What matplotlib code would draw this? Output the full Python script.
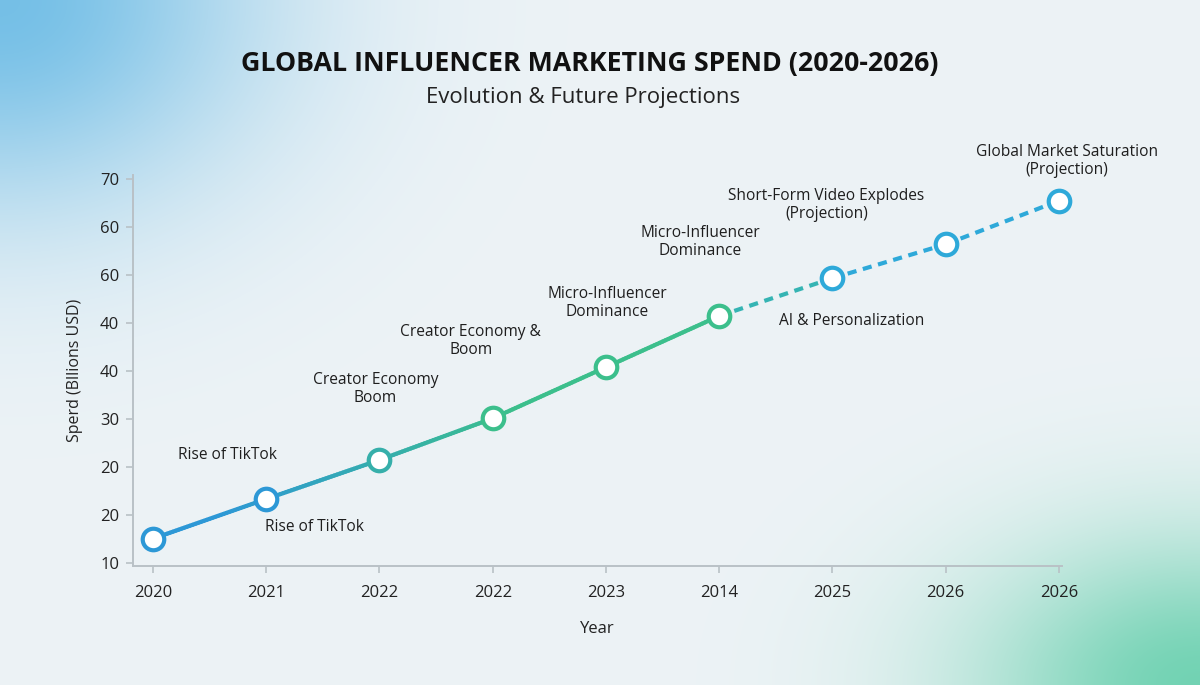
import numpy as np
import matplotlib
matplotlib.use('Agg')
import matplotlib.pyplot as plt
from matplotlib.collections import LineCollection
from matplotlib.colors import to_rgb

plt.rcParams['font.family'] = ['Open Sans', 'DejaVu Sans']

# data
year_labels = ['2020', '2021', '2022', '2022', '2023', '2014', '2025', '2026', '2026']
spend = [13.8, 20.0, 26.1, 32.6, 40.6, 48.6, 54.5, 59.8, 66.6]
n_actual = 6  # first six points solid, the rest projected (dashed)
ytick_values = [10, 17.5, 25, 32.5, 40, 47.5, 55, 62.5, 70]
ytick_labels = ['10', '20', '20', '30', '40', '40', '60', '60', '70']

notes = [
    'Rise of TikTok',
    'Rise of TikTok',
    'Creator Economy\nBoom',
    'Creator Economy &\nBoom',
    'Micro-Influencer\nDominance',
    'Micro-Influencer\nDominance',
    'AI & Personalization',
    'Short-Form Video Explodes\n(Projection)',
    'Global Market Saturation\n(Projection)',
]
# anchor point index and offset (pixels) of each note
note_pos = [(1, -39, 44), (1, 48, -28), (2, -4, 71), (3, -22, 77), (4, 1, 64),
            (5, -19, 74), (6, 19, -43), (6, -6, 73), (8, 8, 40)]

W, H = 1200, 685
fig = plt.figure(figsize=(W / 100, H / 100), dpi=100)

# soft background: blue glow top-left, green glow bottom-right
bg = fig.add_axes([0, 0, 1, 1])
yy, xx = np.mgrid[0:H, 0:W]
base = np.array(to_rgb('#edf3f6'))
blue = np.array(to_rgb('#6fbde6'))
green = np.array(to_rgb('#6cd1b0'))
w1 = 0.95 * np.exp(-((xx / 260.0) ** 2 + (yy / 210.0) ** 2))
w2 = 0.95 * np.exp(-(((W - xx) / 230.0) ** 2 + ((H - yy) / 150.0) ** 2))
img = base[None, None, :] * (1 - w1[..., None]) + blue[None, None, :] * w1[..., None]
img = img * (1 - w2[..., None]) + green[None, None, :] * w2[..., None]
bg.imshow(img, extent=[0, W, H, 0], aspect='auto')
bg.set_axis_off()

ax = fig.add_axes([133 / W, 1 - 566 / H, 929 / W, 391 / H])
ax.patch.set_alpha(0)
ax.set_xlim(-0.1766, 8.0265)
ax.set_ylim(9.53, 70.62)

x = np.arange(len(spend))
y = np.array(spend)

c_blue = np.array(to_rgb('#2d98d6'))
c_green = np.array(to_rgb('#3cbf8c'))
c_proj = np.array(to_rgb('#2ea9d9'))


def mix(a, b, t):
    return tuple(a * (1 - t) + b * t)


# solid part with blue -> green gradient
fine = 40
segs, cols = [], []
for i in range(n_actual - 1):
    for k in range(fine):
        t0, t1 = k / fine, (k + 1) / fine
        xa, xb = x[i] + t0, x[i] + t1
        ya = y[i] + (y[i + 1] - y[i]) * t0
        yb = y[i] + (y[i + 1] - y[i]) * t1
        segs.append([(xa, ya), (xb, yb)])
        g = np.clip((xa + (xb - xa) / 2 - 0.6) / 2.6, 0, 1)
        cols.append(mix(c_blue, c_green, g))
ax.add_collection(LineCollection(segs, colors=cols, linewidth=3, capstyle='round', zorder=2))

# projected part, dashed
for i in range(n_actual - 1, len(y) - 1):
    t = 1.0 if i > n_actual - 1 else 0.5
    ax.plot(x[i:i + 2], y[i:i + 2], linestyle=(0, (2.2, 1.6)), linewidth=3,
            color=mix(c_green, c_proj, t), zorder=2, clip_on=False)

marker_cols = [c_blue, c_blue, mix(c_blue, c_green, 0.6), c_green, c_green, c_green,
               c_proj, c_proj, c_proj]
for i in range(len(y)):
    ax.plot(x[i], y[i], 'o', markersize=15.5, markerfacecolor='white',
            markeredgecolor=tuple(marker_cols[i]), markeredgewidth=3, zorder=3,
            clip_on=False)

for txt, (idx, dx, dy) in zip(notes, note_pos):
    ax.annotate(txt, xy=(x[idx], y[idx]), xytext=(dx * 0.72, dy * 0.72),
                textcoords='offset points', ha='center', va='center',
                fontsize=11.2, color='#1e1e1e', linespacing=1.15)

ax.set_xticks(x)
ax.set_xticklabels(year_labels)
ax.set_yticks(ytick_values)
ax.set_yticklabels(ytick_labels)
ax.tick_params(axis='both', colors='#b9c1c6', labelcolor='#222222', labelsize=12,
               length=5, width=1.2)
ax.tick_params(axis='x', pad=9)
ax.tick_params(axis='y', pad=5)
for s in ['top', 'right']:
    ax.spines[s].set_visible(False)
for s in ['left', 'bottom']:
    ax.spines[s].set_color('#b9c1c6')
    ax.spines[s].set_linewidth(1.4)

ax.set_xlabel('Year', fontsize=12, color='#222222', labelpad=14)
ax.set_ylabel('Sperd (Bllions USD)', fontsize=11.5, color='#222222', labelpad=12)

fig.text(590 / W, 1 - 64 / H, 'GLOBAL INFLUENCER MARKETING SPEND (2020-2026)',
         ha='center', va='center', fontsize=19.3, fontweight='bold', color='#111111')
fig.text(583 / W, 1 - 97 / H, 'Evolution & Future Projections',
         ha='center', va='center', fontsize=16, color='#222222')

fig.savefig('out.png', dpi=100)
